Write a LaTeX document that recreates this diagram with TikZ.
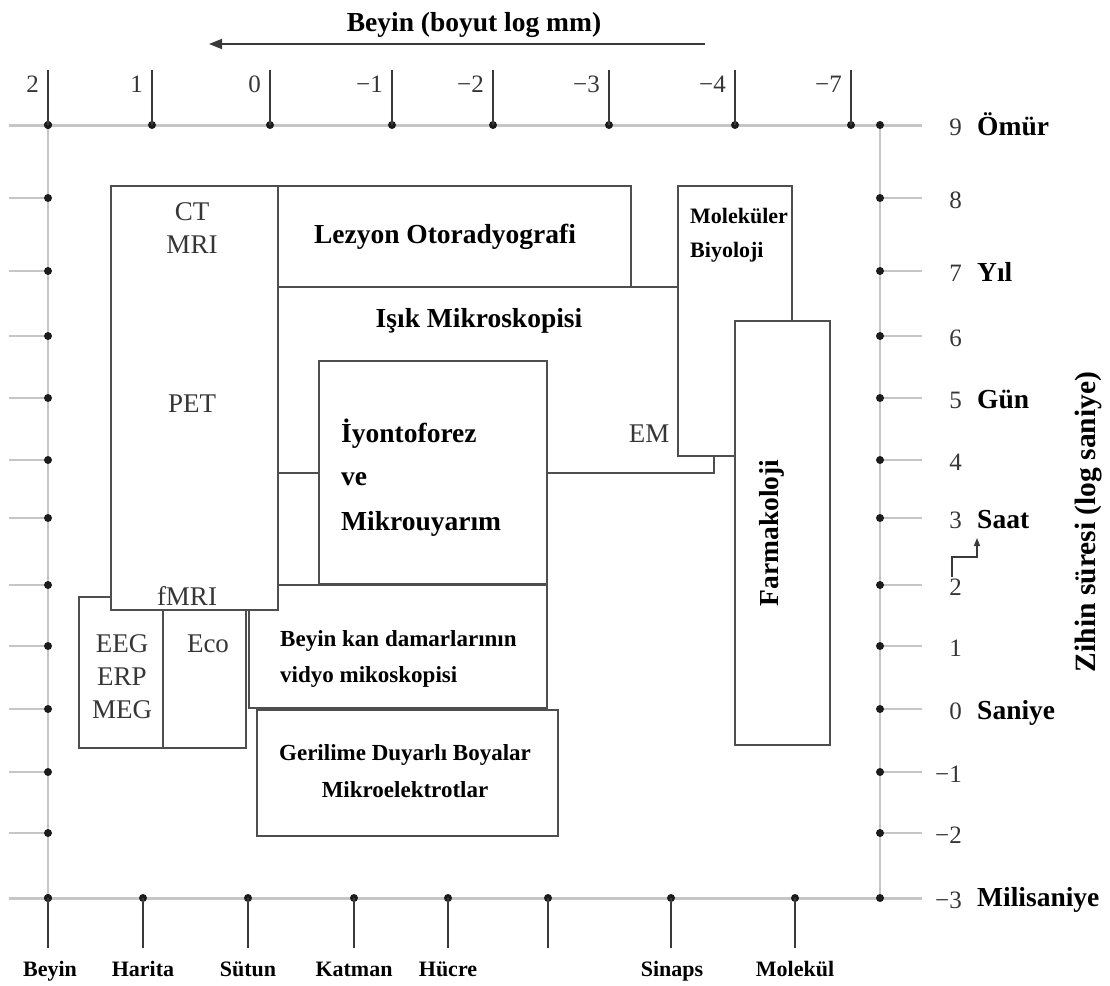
\documentclass[tikz,border=0pt]{standalone}
\usepackage{fontspec}
\newfontfamily\lserif{Liberation Serif}
\usetikzlibrary{arrows.meta}

\definecolor{axisgray}{HTML}{C6C6C6}
\definecolor{boxline}{HTML}{4E4E4E}
\definecolor{inkgray}{HTML}{3A3A3A}
\definecolor{textgray}{HTML}{363636}
\definecolor{dotblack}{HTML}{1C1C1C}

\tikzset{
  axisline/.style={draw=axisgray, line width=3pt},
  gridline/.style={draw=axisgray, line width=1.2pt},
  tickline/.style={draw=inkgray, line width=1.6pt},
  dotmark/.style={circle, fill=dotblack, inner sep=0pt, minimum size=8pt},
  box/.style={draw=boxline, line width=1.6pt, fill=white},
  bigbold/.style={font=\lserif\bfseries\fontsize{27.5}{30}\selectfont, text=black, inner sep=0pt},
  axistitle/.style={font=\lserif\bfseries\fontsize{29.5}{32}\selectfont, text=black, inner sep=0pt},
  midbold/.style={font=\lserif\bfseries\fontsize{23}{26}\selectfont, text=black, inner sep=0pt},
  smallbold/.style={font=\lserif\bfseries\fontsize{22}{25}\selectfont, text=black, inner sep=0pt},
  axisnum/.style={font=\lserif\fontsize{25}{28}\selectfont, text=textgray, inner sep=0pt},
  methodlbl/.style={font=\lserif\fontsize{27}{30}\selectfont, text=textgray, inner sep=0pt},
}

\begin{document}
\begin{tikzpicture}[x=1pt, y=-1pt]
\useasboundingbox (0,0) rectangle (1110,985);

% ---- size axis title and direction arrow ----
\node[bigbold, anchor=base] (sizetitle) at (474,31) {Beyin (boyut log mm)};
\coordinate (arrS) at (705,44);
\coordinate (arrE) at (209,44);
\draw[draw=inkgray, line width=1.8pt, -{Triangle[length=13pt,width=10pt]}] (arrS) -- (arrE);

% ---- frame: left and right time axes ----
\coordinate (lTop) at (48,125);  \coordinate (lBot) at (48,898);
\coordinate (rTop) at (880,125); \coordinate (rBot) at (880,898);
\draw[gridline] (lTop) -- (lBot);
\draw[gridline] (rTop) -- (rBot);

\foreach \v/\y [count=\k] in {9/125,8/198,7/271,6/336,5/398,4/460,3/518,2/585,1/646,0/709,−1/772,−2/833,−3/898} {
  \coordinate (lstub\k) at (9,\y);
  \coordinate (ldot\k) at (48,\y);
  \coordinate (rdot\k) at (880,\y);
  \coordinate (rstub\k) at (922,\y);
  \draw[gridline] (lstub\k) -- (ldot\k);
  \draw[gridline] (rdot\k) -- (rstub\k);
  \node[axisnum, anchor=base east] (rnum\k) at (962,\y+10) {\v};
}

% top and bottom size axes
\coordinate (tL) at (9,125);  \coordinate (tR) at (922,125);
\coordinate (bL) at (9,898);  \coordinate (bR) at (922,898);
\draw[axisline] (tL) -- (tR);
\draw[axisline] (bL) -- (bR);

% dots on the side axes
\foreach \k in {1,...,13} {
  \node[dotmark] (ldm\k) at (ldot\k) {};
  \node[dotmark] (rdm\k) at (rdot\k) {};
}

% top ticks with log mm values
\foreach \lab/\x [count=\k] in {2/48,1/152,0/270,−1/392,−2/493,−3/609,−4/735,−7/851} {
  \coordinate (ttop\k) at (\x,70);
  \node[dotmark] (tdot\k) at (\x,125) {};
  \draw[tickline] (ttop\k) -- (tdot\k.center);
  \node[axisnum, anchor=base east] (tnum\k) at (\x-9,92) {\lab};
}

% bottom ticks with structure names
\foreach \lab/\x/\lx [count=\k] in {Beyin/48/50,Harita/143/143,Sütun/248/248,Katman/354/354,Hücre/448/448,{}/548/548,Sinaps/671/672,Molekül/795/795} {
  \coordinate (bbot\k) at (\x,948);
  \node[dotmark] (bdot\k) at (\x,898) {};
  \draw[tickline] (bbot\k) -- (bdot\k.center);
  \node[smallbold, anchor=base] (blab\k) at (\lx,976) {\lab};
}

% time unit names
\node[bigbold, anchor=base west] (uOmur) at (977,135) {Ömür};
\node[bigbold, anchor=base west] (uYil)  at (977,281) {Yıl};
\node[bigbold, anchor=base west] (uGun)  at (977,408) {Gün};
\node[bigbold, anchor=base west] (uSaat) at (977,528) {Saat};
\node[bigbold, anchor=base west] (uSan)  at (977,719) {Saniye};
\node[bigbold, anchor=base west] (uMili) at (977,906) {Milisaniye};

% small stepped arrow towards the hour mark
\coordinate (sa0) at (952,577);
\coordinate (sa1) at (977,557);
\coordinate (sa2) at (977,538);
\draw[draw=inkgray, line width=1.4pt, -{Triangle[length=8pt,width=6pt]}] (sa0) |- (sa1) -- (sa2);

% vertical axis title
\node[axistitle, rotate=90] (timetitle) at (1089,522) {Zihin süresi (log saniye)};

% ---- method boxes ----
\draw[box] (278,287) rectangle (714,473);   % light microscopy / EM
\draw[box] (278,186) rectangle (631,287);   % lesion, autoradiography
\draw[box] (319,361) rectangle (547,584);   % iontophoresis
\draw[box] (678,186) rectangle (792,456);   % molecular biology
\draw[box] (735,321) rectangle (830,745);   % pharmacology
\draw[box] (249,585) rectangle (547,708);   % video microscopy
\draw[box] (257,710) rectangle (558,836);   % dyes, microelectrodes
\draw[box] (79,597) rectangle (246,748);    % EEG / Eco
\draw[draw=boxline, line width=1.6pt] (163,610) -- (163,748);
\draw[box] (111,186) rectangle (278,610);   % CT, MRI, PET, fMRI

% ---- method labels ----
\node[bigbold, anchor=base] (lezyon) at (445,243) {Lezyon Otoradyografi};
\node[bigbold, anchor=base] (isik) at (479,327) {Işık Mikroskopisi};
\node[bigbold, anchor=base west] (ion1) at (341,442) {İyontoforez};
\node[bigbold, anchor=base west] (ion2) at (341,485) {ve};
\node[bigbold, anchor=base west] (ion3) at (341,530) {Mikrouyarım};
\node[methodlbl, anchor=base] (em) at (649,442) {EM};
\node[smallbold, anchor=base west] (mol1) at (690,223) {Moleküler};
\node[smallbold, anchor=base west] (mol2) at (690,257) {Biyoloji};
\node[bigbold, rotate=90] (farma) at (772,533) {Farmakoloji};
\node[midbold, anchor=base west] (kan1) at (280,646) {Beyin kan damarlarının};
\node[midbold, anchor=base west] (kan2) at (280,682) {vidyo mikoskopisi};
\node[midbold, anchor=base] (ger1) at (405,760) {Gerilime Duyarlı Boyalar};
\node[midbold, anchor=base] (ger2) at (405,797) {Mikroelektrotlar};
\node[methodlbl, anchor=base] (ct)   at (192,220) {CT};
\node[methodlbl, anchor=base] (mri)  at (192,253) {MRI};
\node[methodlbl, anchor=base] (pet)  at (192,412) {PET};
\node[methodlbl, anchor=base] (fmri) at (187,605) {fMRI};
\node[methodlbl, anchor=base] (eeg)  at (122,652) {EEG};
\node[methodlbl, anchor=base] (erp)  at (122,685) {ERP};
\node[methodlbl, anchor=base] (meg)  at (122,718) {MEG};
\node[methodlbl, anchor=base] (eco)  at (208,652) {Eco};
\end{tikzpicture}
\end{document}
